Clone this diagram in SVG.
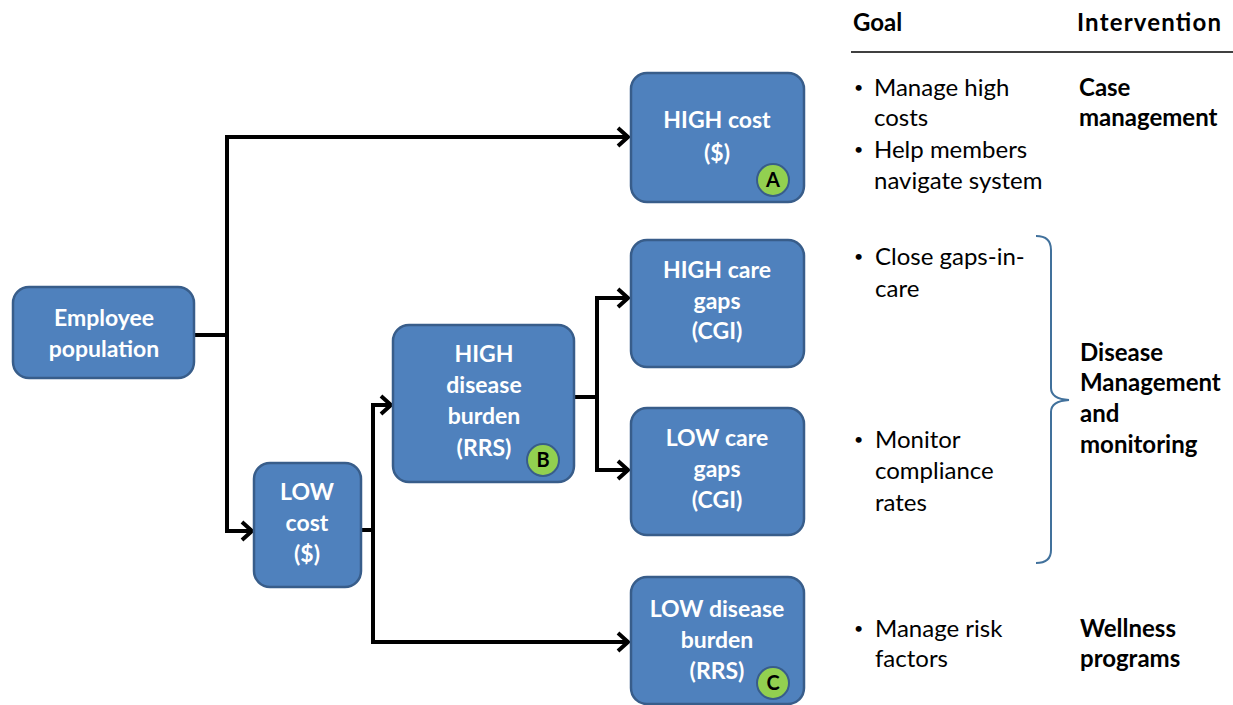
<svg xmlns="http://www.w3.org/2000/svg" width="1233" height="705" viewBox="0 0 1233 705">
<style>
.box{fill:#4f81bd;stroke:#385d8a;stroke-width:2.5}
.bt{font-family:Lato,"Open Sans",sans-serif;font-weight:bold;font-size:23px;fill:#ffffff;text-anchor:middle}
.badge{fill:#92d050;stroke:#385d8a;stroke-width:2}
.bl{font-family:Lato,"Open Sans",sans-serif;font-weight:bold;font-size:20px;fill:#000;text-anchor:middle}
.con{fill:none;stroke:#000;stroke-width:4;stroke-linejoin:miter}
.txt{font-family:Lato,"Open Sans",sans-serif;font-size:24px;fill:#000}
.bul{font-family:Lato,"Open Sans",sans-serif;font-size:16px;fill:#000}
.hd{font-family:Lato,"Open Sans",sans-serif;font-size:24px;font-weight:bold;fill:#000}
</style>
<defs>
<marker id="arr" markerUnits="userSpaceOnUse" markerWidth="20" markerHeight="26" viewBox="-14 -13 20 26" refX="0" refY="0" orient="auto">
<polyline points="-10,-9 0,0 -10,9" fill="none" stroke="#000" stroke-width="4"/>
</marker>
</defs>
<rect width="1233" height="705" fill="#ffffff"/>
<g id="connectors">
<polyline class="con" points="195,335 227,335"/>
<polyline class="con" points="227,137 227,531"/>
<polyline class="con" points="225,137 628,137" marker-end="url(#arr)"/>
<polyline class="con" points="225,531 252,531" marker-end="url(#arr)"/>
<polyline class="con" points="361,530 373,530"/>
<polyline class="con" points="373,405 373,642"/>
<polyline class="con" points="371,405 391,405" marker-end="url(#arr)"/>
<polyline class="con" points="371,642 628,642" marker-end="url(#arr)"/>
<polyline class="con" points="574,397 597,397"/>
<polyline class="con" points="597,298 597,470"/>
<polyline class="con" points="595,298 628,298" marker-end="url(#arr)"/>
<polyline class="con" points="595,470 628,470" marker-end="url(#arr)"/>
</g>
<g id="employee">
<rect class="box" x="13" y="287" width="181" height="91" rx="16"/>
<text class="bt" x="104" y="326">Employee</text>
<text class="bt" x="104" y="357">population</text>
</g>
<g id="high-cost">
<rect class="box" x="631" y="73" width="173" height="129" rx="16"/>
<text class="bt" x="717" y="128">HIGH cost</text>
<text class="bt" x="717" y="161">($)</text>
<circle class="badge" cx="773" cy="180" r="16"/>
<text class="bl" x="773" y="187">A</text>
</g>
<g id="low-cost">
<rect class="box" x="254" y="463" width="107" height="124" rx="16"/>
<text class="bt" x="307" y="500">LOW</text>
<text class="bt" x="307" y="531">cost</text>
<text class="bt" x="307" y="562">($)</text>
</g>
<g id="high-disease">
<rect class="box" x="393" y="325" width="181" height="157" rx="16"/>
<text class="bt" x="484" y="362">HIGH</text>
<text class="bt" x="484" y="393">disease</text>
<text class="bt" x="484" y="424">burden</text>
<text class="bt" x="484" y="456">(RRS)</text>
<circle class="badge" cx="543" cy="460" r="16"/>
<text class="bl" x="543" y="467">B</text>
</g>
<g id="high-care-gaps">
<rect class="box" x="631" y="240" width="173" height="127" rx="16"/>
<text class="bt" x="717" y="278">HIGH care</text>
<text class="bt" x="717" y="309">gaps</text>
<text class="bt" x="717" y="339">(CGI)</text>
</g>
<g id="low-care-gaps">
<rect class="box" x="631" y="408" width="173" height="127" rx="16"/>
<text class="bt" x="717" y="446">LOW care</text>
<text class="bt" x="717" y="477">gaps</text>
<text class="bt" x="717" y="508">(CGI)</text>
</g>
<g id="low-disease">
<rect class="box" x="631" y="577" width="173" height="127" rx="16"/>
<text class="bt" x="717" y="617">LOW disease</text>
<text class="bt" x="717" y="648">burden</text>
<text class="bt" x="717" y="679">(RRS)</text>
<circle class="badge" cx="773" cy="683" r="16"/>
<text class="bl" x="773" y="690">C</text>
</g>
<g id="table">
<text class="hd" x="853" y="31">Goal</text>
<text class="hd" x="1077" y="31" textLength="144" lengthAdjust="spacing">Intervention</text>
<line x1="851" y1="52" x2="1233" y2="52" stroke="#000" stroke-width="1.5"/>
<text class="bul" x="854" y="93">•</text>
<text class="txt" x="874" y="96">Manage high</text>
<text class="txt" x="874" y="126">costs</text>
<text class="bul" x="854" y="155">•</text>
<text class="txt" x="874" y="158">Help members</text>
<text class="txt" x="874" y="189">navigate system</text>
<text class="hd" x="1079" y="96">Case</text>
<text class="hd" x="1079" y="126">management</text>
<text class="bul" x="854" y="262">•</text>
<text class="txt" x="875" y="265">Close gaps-in-</text>
<text class="txt" x="875" y="297">care</text>
<text class="bul" x="854" y="445">•</text>
<text class="txt" x="875" y="448">Monitor</text>
<text class="txt" x="875" y="479">compliance</text>
<text class="txt" x="875" y="511">rates</text>
<text class="bul" x="854" y="634">•</text>
<text class="txt" x="875" y="637">Manage risk</text>
<text class="txt" x="875" y="667">factors</text>
<text class="hd" x="1080" y="361">Disease</text>
<text class="hd" x="1080" y="391">Management</text>
<text class="hd" x="1080" y="422">and</text>
<text class="hd" x="1080" y="453">monitoring</text>
<text class="hd" x="1080" y="637">Wellness</text>
<text class="hd" x="1080" y="667">programs</text>
<path d="M1036,236 Q1051,236 1051,250 L1051,388 Q1051,399 1069,400 Q1051,401 1051,412 L1051,550 Q1051,563 1036,563" fill="none" stroke="#41719c" stroke-width="2"/>
</g>
</svg>
